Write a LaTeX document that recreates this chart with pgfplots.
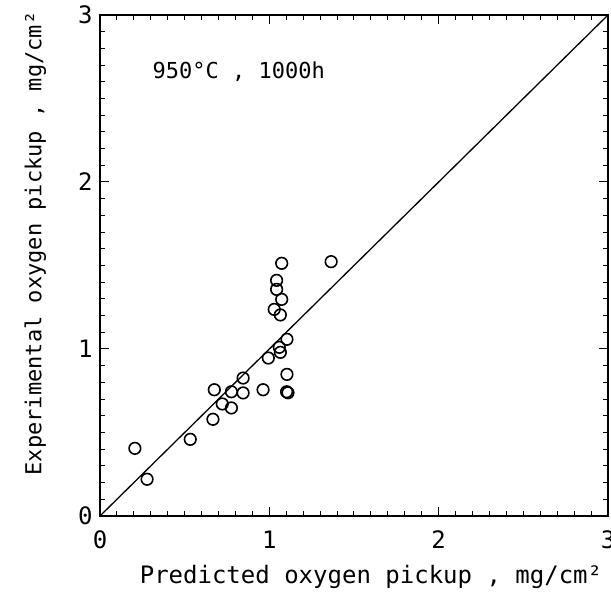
\documentclass[border=0pt]{standalone}
\usepackage{fontspec}
\setmainfont{DejaVu Sans Mono}
\usepackage{pgfplots}
\pgfplotsset{compat=1.18}
\begin{document}
\begin{tikzpicture}[x=1pt,y=1pt]
\path[use as bounding box] (-100,-77) rectangle (511,516);
\begin{axis}[
  at={(0,0)}, anchor=south west,
  scale only axis, width=508pt, height=501pt,
  xmin=0, xmax=3, ymin=0, ymax=3,
  xtick={0,1,2,3}, ytick={0,1,2,3},
  minor x tick num=9, minor y tick num=9,
  tick align=inside,
  major tick length=9pt, minor tick length=5pt,
  tick style={line width=1pt, black},
  axis line style={line width=1.4pt},
  /pgf/number format/assume math mode=true,
  ticklabel style={font=\fontsize{24}{26}\selectfont},
  xticklabel style={yshift=-11pt},
  yticklabel style={xshift=-4pt},
  xlabel={Predicted oxygen pickup , mg/cm²},
  ylabel={Experimental oxygen pickup , mg/cm²},
  xlabel style={font=\fontsize{24}{26}\selectfont, yshift=-10pt, xshift=17pt},
  ylabel style={font=\fontsize{22}{24}\selectfont, yshift=25pt, xshift=22pt},
  clip=false,
]
\addplot[black, line width=1.3pt, no marks] coordinates {(0,0) (3,3)};
\addplot[only marks, mark=o, mark size=5.8pt, mark options={line width=1.6pt, black}] coordinates {
(0.206,0.405) (0.278,0.220) (0.533,0.459) (0.667,0.579) (0.675,0.756)
(0.722,0.671) (0.776,0.647) (0.776,0.744) (0.845,0.826) (0.845,0.737)
(0.963,0.756) (0.994,0.946) (1.059,1.010) (1.065,0.980) (1.104,1.058)
(1.104,0.848) (1.102,0.744) (1.110,0.738) (1.029,1.237) (1.065,1.204)
(1.073,1.297) (1.043,1.357) (1.043,1.411) (1.073,1.513) (1.365,1.523)
};
\node[anchor=west, font=\fontsize{22}{24}\selectfont] at (axis cs:0.29,2.66) {950°C , 1000h};
\end{axis}
\end{tikzpicture}
\end{document}
